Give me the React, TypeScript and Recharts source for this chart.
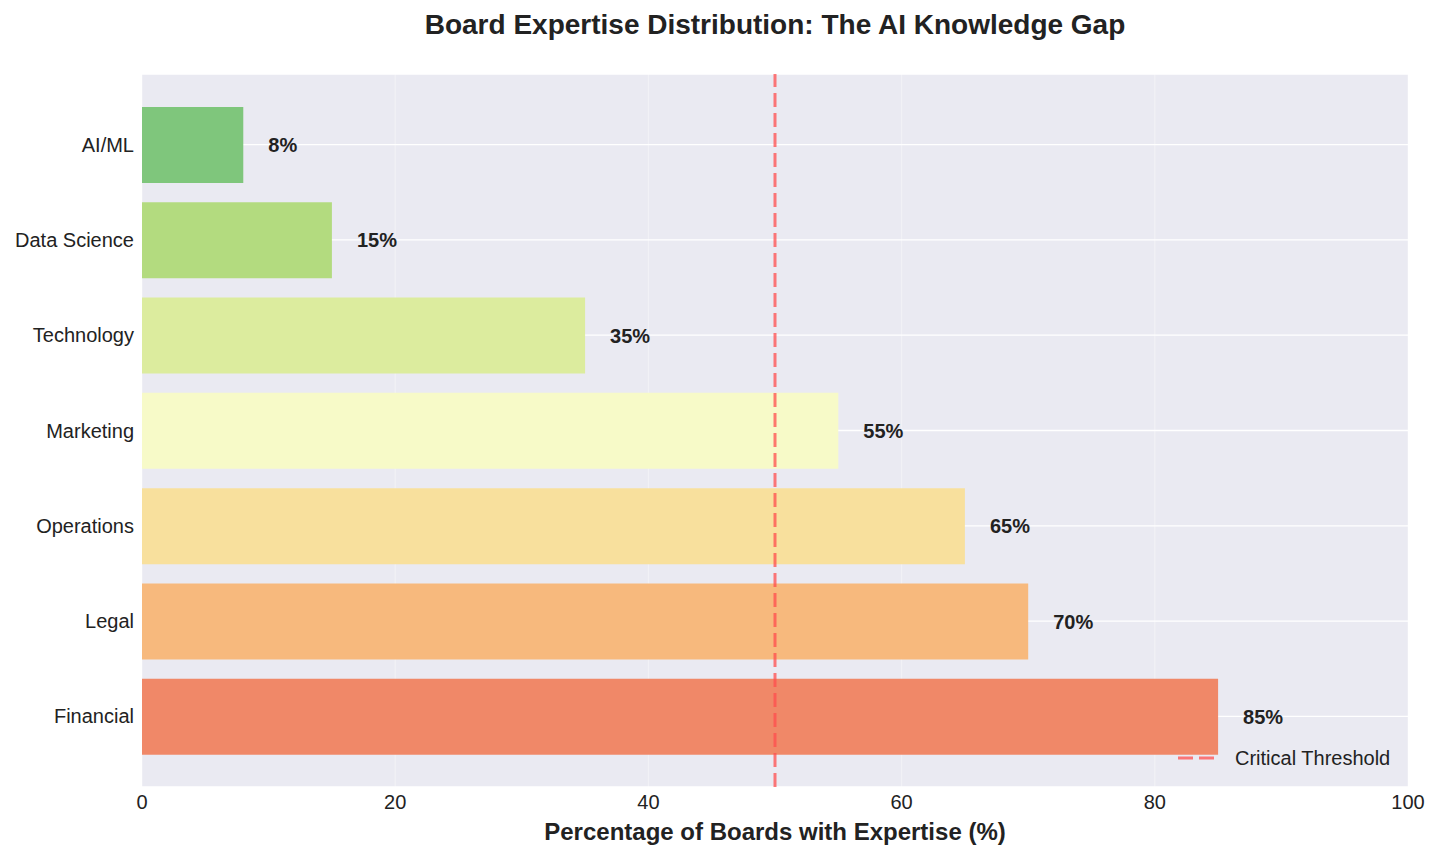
import React from 'react';
import { BarChart, Bar, XAxis, YAxis, CartesianGrid, ReferenceLine, LabelList, Cell } from 'recharts';

const categories = ['AI/ML', 'Data Science', 'Technology', 'Marketing', 'Operations', 'Legal', 'Financial'];
const values = [8, 15, 35, 55, 65, 70, 85];
const colors = ['#7FC67C', '#B3DB7F', '#DCEC9E', '#F7FAC8', '#F8E09D', '#F7B97D', '#F08868'];
const xTicks = [0, 20, 40, 60, 80, 100];
const threshold = 50;

const data = categories.map((c, i) => ({ name: c, value: values[i] }));

const FONT = '"Liberation Sans", Arial, sans-serif';

const ValueLabel = (props: any) => {
  const { x, y, width, height, value } = props;
  return (
    <text x={x + width + 25} y={y + height / 2} dy="0.36em" textAnchor="start" fontFamily={FONT} fontSize={20} fontWeight="bold" fill="#222">
      {value}%
    </text>
  );
};

export default function App() {
  return (
    <div style={{ position: 'absolute', left: 0, top: 0, width: 1440, height: 859, background: '#fff', fontFamily: FONT }}>
      <div style={{ position: 'absolute', left: 142, width: 1266, top: 9, textAlign: 'center', fontSize: 28, fontWeight: 'bold', color: '#222', whiteSpace: 'nowrap' }}>
        Board Expertise Distribution: The AI Knowledge Gap
      </div>
      <BarChart
        width={1440}
        height={859}
        data={data}
        layout="vertical"
        margin={{ top: 74, right: 32, bottom: 42, left: 0 }}
        barSize={76}
      >
        <CartesianGrid fill="#EAEAF2" stroke="#ffffff" strokeWidth={1.3} horizontal={true} vertical={false} />
        <CartesianGrid stroke="#ffffff" strokeOpacity={0.35} strokeWidth={1.2} horizontal={false} vertical={true} fill="none" />
        <XAxis
          type="number"
          domain={[0, 100]}
          ticks={xTicks}
          axisLine={false}
          tickLine={false}
          tickSize={0}
          tickMargin={8}
          height={30}
          tick={{ fontFamily: FONT, fontSize: 20, fill: '#222' }}
        />
        <YAxis
          type="category"
          dataKey="name"
          width={142}
          axisLine={false}
          tickLine={false}
          tickSize={0}
          tickMargin={8}
          padding={{ top: 23, bottom: 23 }}
          tick={{ fontFamily: FONT, fontSize: 20, fill: '#222' }}
        />
        <Bar dataKey="value" isAnimationActive={false}>
          {data.map((d, i) => (
            <Cell key={d.name} fill={colors[i]} />
          ))}
          <LabelList dataKey="value" content={ValueLabel} />
        </Bar>
        <ReferenceLine x={threshold} stroke="#FF4D4D" strokeOpacity={0.75} strokeWidth={3} strokeDasharray="14 6" />
      </BarChart>
      <div style={{ position: 'absolute', left: 520, width: 510, top: 818, textAlign: 'center', fontSize: 24, fontWeight: 'bold', color: '#222', whiteSpace: 'nowrap' }}>
        Percentage of Boards with Expertise (%)
      </div>
      <div style={{ position: 'absolute', left: 1176, top: 746, height: 24, display: 'flex', alignItems: 'center' }}>
        <svg width={40} height={24}>
          <line x1={2} y1={12} x2={38} y2={12} stroke="#FF4D4D" strokeOpacity={0.75} strokeWidth={3} strokeDasharray="15 6" />
        </svg>
        <span style={{ marginLeft: 19, fontSize: 20, color: '#222', whiteSpace: 'nowrap' }}>Critical Threshold</span>
      </div>
    </div>
  );
}
